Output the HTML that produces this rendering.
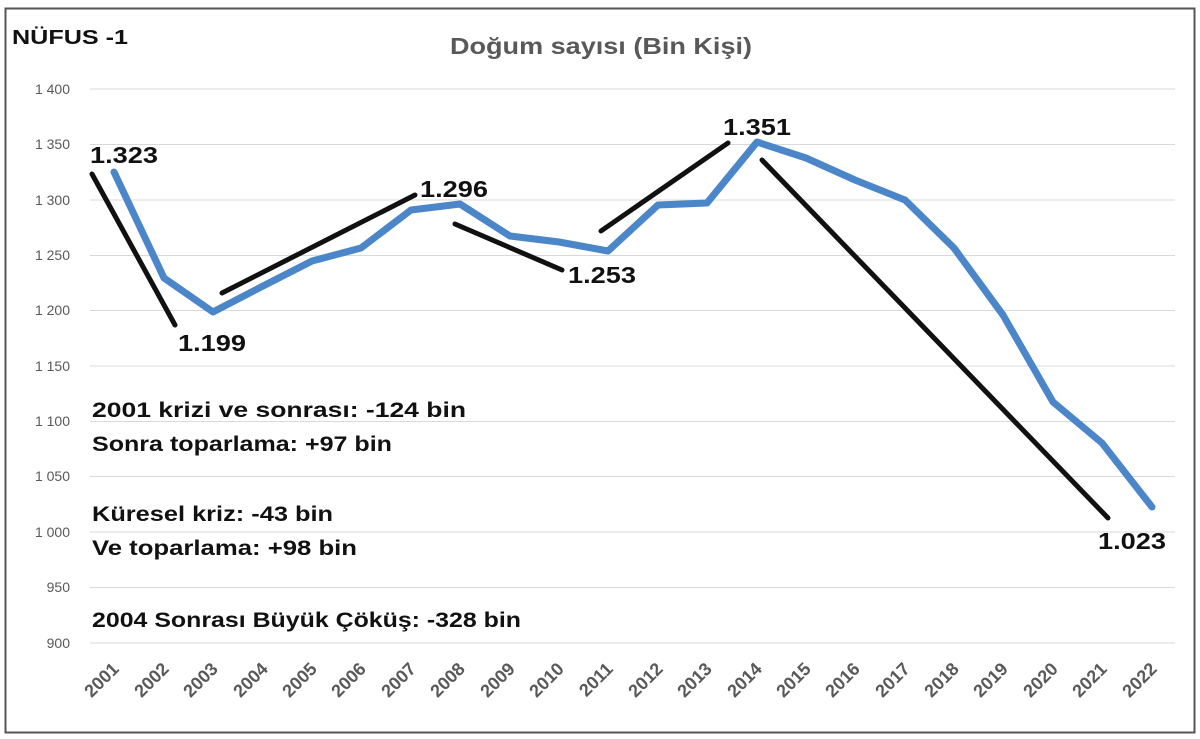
<!DOCTYPE html>
<html><head><meta charset="utf-8"><style>
body{margin:0;background:#fff;width:1200px;height:739px;overflow:hidden}
svg{display:block;font-family:"Liberation Sans",sans-serif}
.yl{font-size:14px;fill:#595959;text-anchor:end}
.xl{font-size:18px;fill:#595959;text-anchor:end;font-weight:bold}
.b{font-family:"Liberation Sans",sans-serif;font-weight:bold;fill:#111}
</style></head><body>
<svg width="1200" height="739" viewBox="0 0 1200 739">
<rect x="5.5" y="8.5" width="1189" height="724" fill="#fff" stroke="#555" stroke-width="2"/>
<g stroke="#d9d9d9" stroke-width="1">
<line x1="90" x2="1175" y1="89" y2="89"/><line x1="90" x2="1175" y1="144.5" y2="144.5"/>
<line x1="90" x2="1175" y1="200" y2="200"/><line x1="90" x2="1175" y1="255.5" y2="255.5"/>
<line x1="90" x2="1175" y1="310.5" y2="310.5"/><line x1="90" x2="1175" y1="366" y2="366"/>
<line x1="90" x2="1175" y1="421.5" y2="421.5"/><line x1="90" x2="1175" y1="476.5" y2="476.5"/>
<line x1="90" x2="1175" y1="532" y2="532"/><line x1="90" x2="1175" y1="587.5" y2="587.5"/>
<line x1="90" x2="1175" y1="643" y2="643"/>
</g>
<g class="yl">
<text x="70" y="94">1 400</text><text x="70" y="149">1 350</text><text x="70" y="205">1 300</text>
<text x="70" y="260">1 250</text><text x="70" y="315">1 200</text><text x="70" y="371">1 150</text>
<text x="70" y="426">1 100</text><text x="70" y="481">1 050</text><text x="70" y="537">1 000</text>
<text x="70" y="592">950</text><text x="70" y="648">900</text>
</g>
<text x="12" y="44" class="b" font-size="20" textLength="116" lengthAdjust="spacingAndGlyphs">NÜFUS -1</text>
<text x="450" y="54" font-size="23" fill="#595959" font-weight="bold" textLength="302" lengthAdjust="spacingAndGlyphs">Doğum  sayısı (Bin Kişi)</text>
<g class="xl">
<text transform="translate(120,670) rotate(-45)">2001</text>
<text transform="translate(170,670) rotate(-45)">2002</text>
<text transform="translate(219,670) rotate(-45)">2003</text>
<text transform="translate(269,670) rotate(-45)">2004</text>
<text transform="translate(318,670) rotate(-45)">2005</text>
<text transform="translate(367,670) rotate(-45)">2006</text>
<text transform="translate(417,670) rotate(-45)">2007</text>
<text transform="translate(466,670) rotate(-45)">2008</text>
<text transform="translate(516,670) rotate(-45)">2009</text>
<text transform="translate(565,670) rotate(-45)">2010</text>
<text transform="translate(614,670) rotate(-45)">2011</text>
<text transform="translate(664,670) rotate(-45)">2012</text>
<text transform="translate(713,670) rotate(-45)">2013</text>
<text transform="translate(763,670) rotate(-45)">2014</text>
<text transform="translate(812,670) rotate(-45)">2015</text>
<text transform="translate(861,670) rotate(-45)">2016</text>
<text transform="translate(911,670) rotate(-45)">2017</text>
<text transform="translate(960,670) rotate(-45)">2018</text>
<text transform="translate(1009,670) rotate(-45)">2019</text>
<text transform="translate(1059,670) rotate(-45)">2020</text>
<text transform="translate(1108,670) rotate(-45)">2021</text>
<text transform="translate(1158,670) rotate(-45)">2022</text>
</g>
<polyline fill="none" stroke="#4a86c8" stroke-width="7" stroke-linejoin="round" stroke-linecap="round"
points="114,172 164,278 213,312 263,286 312,261 361,248 411,210 460,204 510,236 559,242 608,251 658,205 707,203 757,142 806,158 855,180 905,200 954,248 1003,315 1053,402 1102,443 1152,507"/>
<g stroke="#111" stroke-width="5" stroke-linecap="round">
<line x1="92" y1="174" x2="175" y2="325"/>
<line x1="222" y1="293" x2="415" y2="195"/>
<line x1="455" y1="224" x2="562" y2="270"/>
<line x1="601" y1="231" x2="728" y2="143"/>
<line x1="762" y1="160" x2="1108" y2="518"/>
</g>
<g class="b" font-size="23">
<text x="90" y="163" textLength="68" lengthAdjust="spacingAndGlyphs">1.323</text>
<text x="178" y="351" textLength="68" lengthAdjust="spacingAndGlyphs">1.199</text>
<text x="420" y="197" textLength="68" lengthAdjust="spacingAndGlyphs">1.296</text>
<text x="568" y="283" textLength="68" lengthAdjust="spacingAndGlyphs">1.253</text>
<text x="723" y="135" textLength="68" lengthAdjust="spacingAndGlyphs">1.351</text>
<text x="1098" y="549" textLength="68" lengthAdjust="spacingAndGlyphs">1.023</text>
</g>
<g class="b" font-size="21" fill="#1a1a1a">
<text x="92" y="417" textLength="374" lengthAdjust="spacingAndGlyphs">2001 krizi ve sonrası: -124 bin</text>
<text x="92" y="451" textLength="300" lengthAdjust="spacingAndGlyphs">Sonra toparlama: +97 bin</text>
<text x="92" y="521" textLength="241" lengthAdjust="spacingAndGlyphs">Küresel kriz: -43 bin</text>
<text x="92" y="555" textLength="265" lengthAdjust="spacingAndGlyphs">Ve toparlama: +98 bin</text>
<text x="92" y="627" textLength="429" lengthAdjust="spacingAndGlyphs">2004 Sonrası Büyük Çöküş: -328 bin</text>
</g>
</svg>
</body></html>
